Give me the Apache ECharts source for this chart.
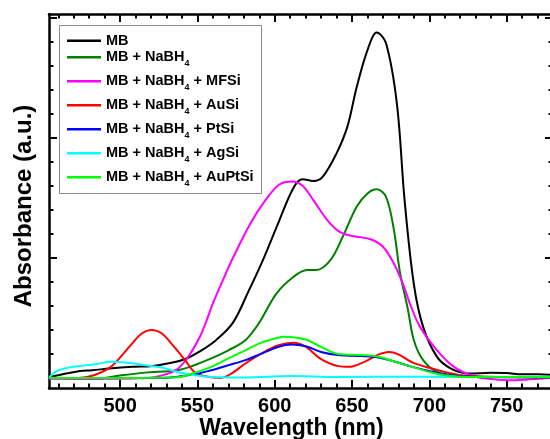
<!DOCTYPE html>
<html><head><meta charset="utf-8">
<script src="https://cdn.jsdelivr.net/npm/echarts@6/dist/echarts.min.js"></script>
<style>html,body{margin:0;padding:0;background:#fff}#c{width:550px;height:439px}</style>
</head><body><div id="c"></div>
<script>
// ---- data ----
const seriesNames = ['MB', 'MB + NaBH4', 'MB + NaBH4 + MFSi', 'MB + NaBH4 + AuSi', 'MB + NaBH4 + PtSi', 'MB + NaBH4 + AgSi', 'MB + NaBH4 + AuPtSi'];
const seriesColors = ['#000000', '#008000', '#ff00ff', '#ff0000', '#0000ff', '#00ffff', '#00ff00'];

const mbNm  = [454,465,474,482,493,508,521,534,543,551,562,573,583,593,602,612,618,625,631,640,647,653,660,666,672,679,684,690,696,705,714,726,740,750,760,770,780];
const mbAbs = [0.004,0.018,0.029,0.032,0.039,0.046,0.05,0.064,0.081,0.108,0.157,0.23,0.36,0.50,0.64,0.79,0.827,0.82,0.837,0.935,1.046,1.21,1.365,1.4375,1.393,1.143,0.74,0.39,0.2125,0.0875,0.039,0.018,0.021,0.02,0.015,0.015,0.0125];

const nabhNm  = [454,470,484,500,516,537,548,559,570,581,590,601,612,621,627,636,644,653,660,666,672,677,681,686,690,696,705,716,730,750,780];
const nabhAbs = [0.0,-0.003,-0.004,0.01,0.022,0.032,0.053,0.081,0.115,0.157,0.23,0.35,0.42,0.449,0.449,0.49,0.5875,0.7125,0.768,0.785,0.754,0.62,0.44,0.29,0.157,0.074,0.025,0.011,0.006,0.004,0.003];

const mfsiNm  = [454,480,510,523,536,544,551.5,556,560,566,573,584,594,603,611,618,625,634,642,651,662,670,677,683,688,694,705,716,727,737,752,765,780];
const mfsiAbs = [-0.003,-0.003,-0.002,0.004,0.032,0.0875,0.17,0.24,0.31,0.40,0.50,0.64,0.74,0.805,0.818,0.80,0.74,0.657,0.608,0.59,0.577,0.546,0.477,0.39,0.30,0.2125,0.115,0.046,0.011,-0.003,-0.01,-0.006,0.0];

const ausiNm  = [454,473,483,494,502,508,514,520,527,535,542,548,555,565,572,581,591,602,612,620,630,641,648,658,667,674,680,689,700,710,721,735,780];
const ausiAbs = [0.0,0.0,0.011,0.046,0.10,0.145,0.185,0.199,0.185,0.129,0.074,0.025,0.007,0.0,0.018,0.06,0.10,0.135,0.146,0.13,0.078,0.049,0.046,0.067,0.097,0.108,0.098,0.065,0.042,0.025,0.011,0.005,0.003];

const ptsiNm  = [454,500,527,548,559,570,581,591,602,611,620,630,641,656,667,678,689,700,710,721,740,780];
const ptsiAbs = [0.0,0.0,0.0,0.015,0.032,0.053,0.074,0.10,0.129,0.139,0.132,0.108,0.095,0.091,0.085,0.067,0.046,0.029,0.015,0.007,0.003,0.002];

const agsiNm  = [454,458,464,473,484,494,505,516,527,537,548,559,580,610,640,680,720,780];
const agsiAbs = [0.0,0.025,0.039,0.049,0.057,0.067,0.063,0.053,0.043,0.025,0.011,0.004,0.002,0.008,0.004,0.005,0.004,0.005];

const auptsiNm  = [454,500,537,548,559,570,581,591,602,606,620,630,641,656,667,678,689,700,710,725,780];
const auptsiAbs = [0.0,0.0,0.003,0.021,0.046,0.081,0.115,0.146,0.167,0.171,0.16,0.129,0.10,0.095,0.088,0.067,0.046,0.025,0.011,0.004,0.003];

const xMajorTicks = [500,550,600,650,700,750];
const xMinorTicks = [460,470,480,490,510,520,530,540,560,570,580,590,610,620,630,640,660,670,680,690,710,720,730,740,760,770];
const yMajorTicks = [0,0.5,1.0,1.5];
const yMinorTicks = [0.1,0.2,0.3,0.4,0.6,0.7,0.8,0.9,1.1,1.2,1.3,1.4];

const X_MIN = 454, X_MAX = 780, Y_MIN = -0.042, Y_MAX = 1.515;
// ---- chart ----
const FONT = "'Liberation Sans', Arial, sans-serif";
const pairs = (xs, ys) => xs.map((x, i) => [x, ys[i]]);
const allData = [
  pairs(mbNm, mbAbs), pairs(nabhNm, nabhAbs), pairs(mfsiNm, mfsiAbs), pairs(ausiNm, ausiAbs),
  pairs(ptsiNm, ptsiAbs), pairs(agsiNm, agsiAbs), pairs(auptsiNm, auptsiAbs)
];

function makeX(position, ticks, len, main) {
  return {
    type: 'value', gridIndex: 0, position: position, min: X_MIN, max: X_MAX,
    axisLine: { show: main, onZero: false, lineStyle: { color: '#000', width: 2.5 } },
    axisTick: { show: true, inside: true, length: len, customValues: ticks, lineStyle: { color: '#000', width: 2 } },
    axisLabel: { show: main && position === 'bottom', customValues: xMajorTicks, margin: 8,
      fontFamily: FONT, fontWeight: 'bold', fontSize: 20, color: '#000' },
    splitLine: { show: false }
  };
}
function makeY(position, ticks, len, main) {
  return {
    type: 'value', gridIndex: 0, position: position, min: Y_MIN, max: Y_MAX,
    axisLine: { show: main, onZero: false, lineStyle: { color: '#000', width: 2.5 } },
    axisTick: { show: true, inside: true, length: len, customValues: ticks, lineStyle: { color: '#000', width: 2 } },
    axisLabel: { show: false },
    splitLine: { show: false }
  };
}
const xAxes = [
  makeX('bottom', xMajorTicks, 8, true),
  makeX('bottom', xMinorTicks, 4.5, false),
  makeX('top', xMajorTicks, 8, true),
  makeX('top', xMinorTicks, 4.5, false)
];
xAxes[0].name = 'Wavelength (nm)';
xAxes[0].nameLocation = 'middle';
xAxes[0].nameGap = 29.5;
xAxes[0].nameMoveOverlap = false;
xAxes[0].nameTextStyle = { fontFamily: FONT, fontWeight: 'bold', fontSize: 23, color: '#000', padding: [0, 19, 0, 0] };
const yAxes = [
  makeY('left', yMajorTicks, 8, true),
  makeY('left', yMinorTicks, 4.5, false),
  makeY('right', yMajorTicks, 8, true),
  makeY('right', yMinorTicks, 4.5, false)
];
yAxes[0].name = 'Absorbance (a.u.)';
yAxes[0].nameLocation = 'middle';
yAxes[0].nameGap = 13;
yAxes[0].nameMoveOverlap = false;
yAxes[0].nameTextStyle = { fontFamily: FONT, fontWeight: 'bold', fontSize: 24, color: '#000', padding: [0, 10, 0, 0] };

const legendText = {
  fontFamily: FONT, fontWeight: 'bold', fontSize: 14.5, color: '#000', lineHeight: 16,
  rich: { s: { fontFamily: FONT, fontWeight: 'bold', fontSize: 9, color: '#000', padding: [12, 0, 0, 0] } }
};
const legendFmt = name => name.replace('NaBH4', 'NaBH{s|4}');
const legendBase = { orient: 'vertical', left: 67, padding: 0, itemWidth: 34, itemHeight: 2.5, icon: 'rect',
  textStyle: legendText, formatter: legendFmt, selectedMode: false };

const chart = echarts.init(document.getElementById('c'), null, { renderer: 'canvas' });
chart.setOption({
  animation: false,
  backgroundColor: '#fff',
  grid: { left: 49, right: -3, top: 14, bottom: 51, containLabel: false, outerBoundsMode: 'none' },
  xAxis: xAxes,
  yAxis: yAxes,
  graphic: [{ type: 'rect', z: 3, shape: { x: 59.5, y: 25.5, width: 202, height: 168 },
    style: { fill: '#fff', stroke: '#8a8a8a', lineWidth: 1 } }],
  legend: [
    Object.assign({}, legendBase, { top: 32.7, data: [seriesNames[0]] }),
    Object.assign({}, legendBase, { top: 49.3, itemGap: 5.5, data: seriesNames.slice(1) })
  ],
  series: seriesNames.map((n, i) => ({
    name: n, type: 'line', xAxisIndex: 0, yAxisIndex: 0, data: allData[i],
    smooth: 0.35, symbol: 'none', clip: true,
    lineStyle: { color: seriesColors[i], width: 2 }, itemStyle: { color: seriesColors[i] }
  }))
});
</script></body></html>
